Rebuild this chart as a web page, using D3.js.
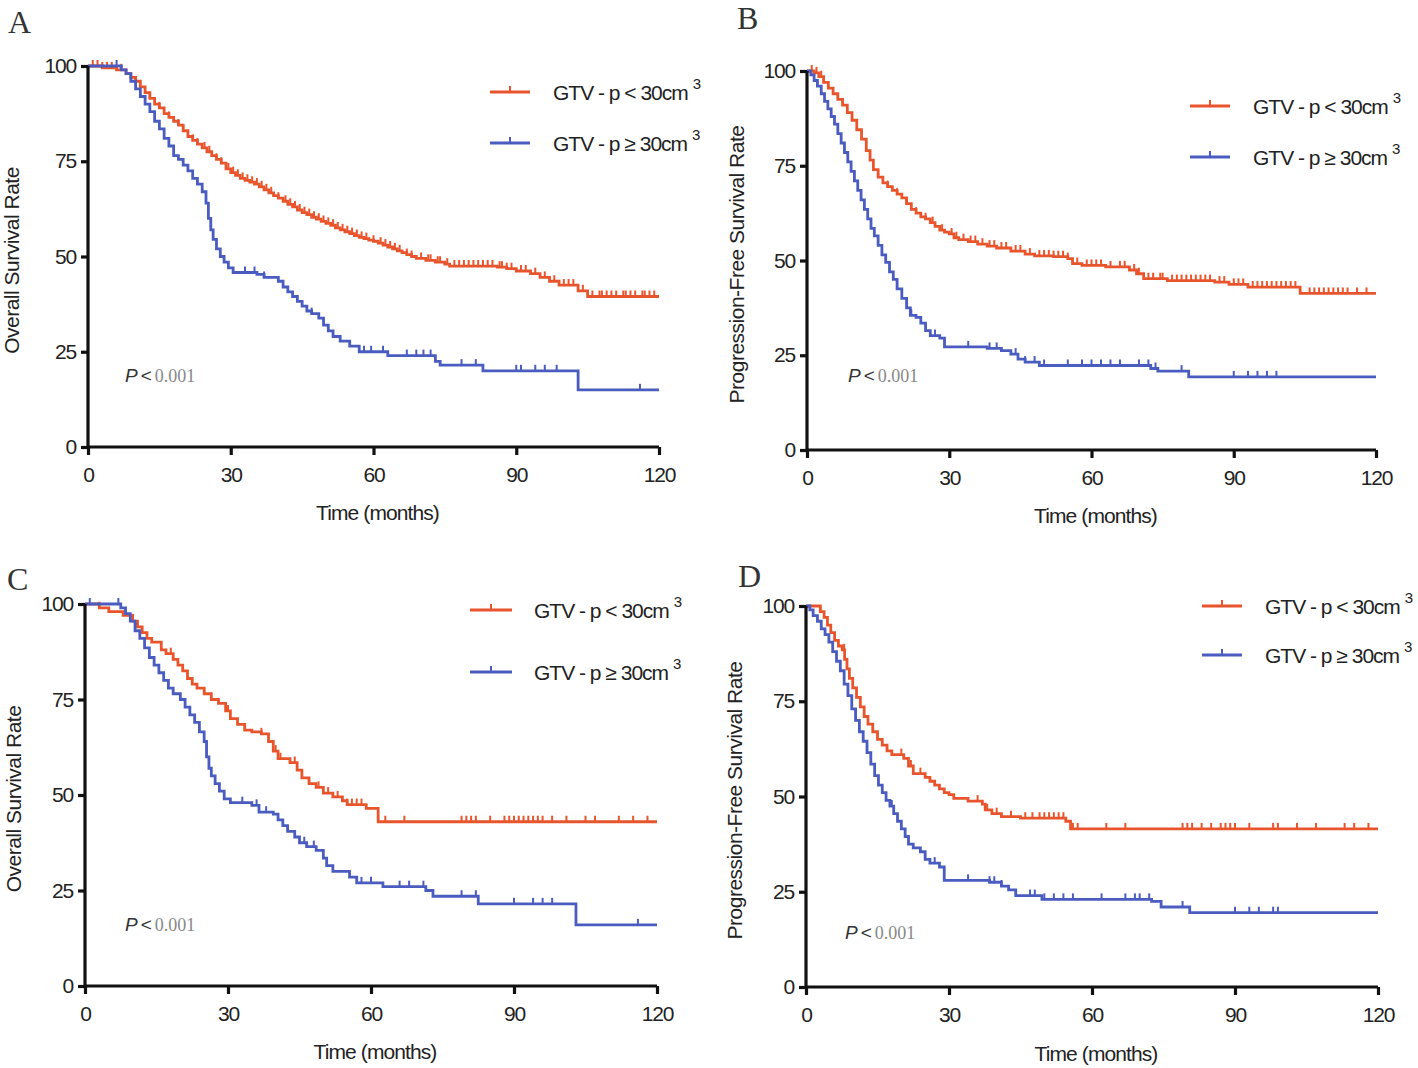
<!DOCTYPE html>
<html><head><meta charset="utf-8">
<script src="https://cdn.jsdelivr.net/npm/d3@7"></script>
<style>
html,body{margin:0;padding:0;background:#fff;}
svg{display:block;}
</style></head>
<body>
<svg id="chart" width="1418" height="1068"></svg>
<script>
// ---------- DATA ----------
const panelLetters = ["A", "B", "C", "D"];
const yTitles = ["Overall Survival Rate", "Progression-Free Survival Rate", "Overall Survival Rate", "Progression-Free Survival Rate"];
const xTitle = "Time (months)";
const xTicks = [0, 30, 60, 90, 120];
const yTicks = [0, 25, 50, 75, 100];
const seriesNames = ["GTV - p < 30cm", "GTV - p \u2265 30cm"];
const pText = "0.001";

// Panel A
const aRedT = [0,3,6,8,9,10,11,12,13,14,15,16,17,18,19,20,21,22,23,24,25,26,27,28,29,30,31,32,33,34,35,36,37,38,39,40,41,42,43,44,45,46,47,48,49,50,51,52,53,54,55,56,57,58,59,60,61,62,63,64,65,66,67,68,69,71,73,75,76,86,88,90,93,95,97,99,103,105];
const aRedS = [100,99.5,99,98,97,96,94.5,93,91.5,90,89,87.5,86.5,85.5,84.5,83,81.5,80.5,79.5,78.5,77.5,76.5,75.5,74.5,73,72,71.3,70.5,70,69.5,69,68.3,67.5,66.7,66,65.3,64.5,63.7,63,62.2,61.5,61,60.3,59.8,59.2,58.7,58.2,57.5,57,56.5,56,55.5,55,54.7,54.3,54,53.5,53,52.5,52,51.5,51,50.5,50,49.5,49,48.5,48,47.5,47.2,46.8,46.2,45.5,44.5,43.5,42.5,41,39.5];
const aRedC = [1,2,3,4,5,7,13,15,17,19,20,22,23,24.5,25.5,27,28,29.5,30.5,31.5,32.5,33.5,34.5,35.5,36.5,37.5,38.5,40,41.5,42.5,43.5,44.5,45.5,46.5,47.5,48.5,49.5,50.5,51.5,52.5,53.5,54.5,55.5,56.5,57.5,58.5,60,61.5,62.5,63.5,64.5,65.5,67,68,70,71.5,72,73.5,74,75.5,77,78,79,80,81,82,83,84,85,86.5,87,88,89,91,92,94,96,98,100,101,102,104,106,107.5,108,109,110,111,112.5,113,114,115,116.5,117,118,119];
const aBlueT = [0,7,8,9,10,11,12,13,14,15,16,17,18,19,20,21,22,23,24,24.8,25.3,25.8,26.3,27,27.8,28.6,29.5,30.5,35.5,37,40,41,42,43,44,45,46,47,48.5,49.5,50.5,51.5,53,55,57,63,73,74,83,103];
const aBlueS = [100,99,98,96,94,92,90,88,85.5,83.5,81,79,76.5,75.5,74,72.5,70.5,69,67,64,60,57,54.5,52,50,48.5,47,45.8,45.3,44.5,43.5,42,40.7,39.5,38.2,37,35.7,35,33.8,32,30.5,29,27.8,26.5,25,24,22.5,21.5,20,15];
const aBlueC = [6,33,35,37,47,58,59.5,62,67,69,70.5,72,78.5,81.5,90,91,94,96,98.5,116];

// Panel B
const bRedT = [0,1.5,2.5,3.5,4.5,5.5,6.5,7.5,8.5,9.5,10.5,11.5,12.5,13.3,14,15,16,17,18,19,20,21,22,23,24,25,26,27,28,29,30,31,32,34,36,38,40,43,46,48,52,55,56,58,63,68,69.5,71,76,86,89,93,104];
const bRedS = [100,99.5,98.5,97,95.5,94,92.5,91,89,87,84.5,82,79,76.5,74,72,70.5,69.5,68.5,67.5,66.5,65,63.5,62.5,61.5,61,60,59,58,57.5,57,56,55.5,55,54.3,53.8,53.3,52.5,51.7,51.2,51,50.5,49.2,48.7,48.3,47.5,46.5,45.2,44.7,44.3,43.7,43,41.3];
const bRedC = [1,2,3,15,17,19,21,23,25,26.5,28.5,30.5,31.5,33,34.5,35.5,37,38.5,39.5,41,42,44,45,47,49,50,51,52,53,54,55,57,59,60,61,62,64,66,67,69,70,72,73,74.5,75,77,78,79,80,81,82,83,84,85,87,88,90,91,92,94,95,96,97,98,99,100,101,102,103,106,107,108,109,110,111,112,113,114,116,118];
const bBlueT = [0,0.8,1.5,2.2,3,3.7,4.4,5.1,5.8,6.5,7.2,7.9,8.6,9.3,10,10.7,11.4,12.1,12.8,13.5,14.2,15,15.8,16.6,17.4,18.2,19,20,21,21.8,23,24,25,26,28,29,38,41,43,44.5,46,49,72.5,74,80.5];
const bBlueS = [100,99,97.5,96,94,92,90,88,86,83.5,81,78.5,76,73.5,71,68.5,66,63.5,61,58.5,56.5,54,51.5,49.5,47,45,42.5,40,37.5,35.5,35,33.5,31.5,30.2,29.5,27.2,26.8,26.2,25.3,24,23.2,22.3,21.5,20.8,19.3];
const bBlueC = [19,22,27,34,38.5,40,44,46,48,50,55,58,60,62,64,66,70,72,73.5,79,90,93,95,97,99];

// Panel C
const cRedT = [0,3,5,8,10,11,12,13,14,16,17,18.5,19.5,20.5,21.5,22.5,23.5,25,26.5,28,29.5,30.5,32,33.5,35,37,38.5,39.5,40.5,43,44.5,45.5,47,48.5,50,52,54,55,59,61.5];
const cRedS = [100,99,98,97,95.5,94,92.5,91,90,88,87,85.5,84,82.5,80.5,79,78,76.5,75,74,72,70,68.5,67,66.5,66,64,61.5,59.5,58.5,56.5,54.5,53,52,50.5,49.5,48.5,47.5,46.5,43];
const cRedC = [3,11,18,25,30,37,40,41,44,47,49,51,53,55,56,57,58,63,67,79,80,81,82,85,88,89,90,91,92,93,94,95,96,98,101,105,107,112,115,118];
const cBlueT = [0,7.5,8.5,9.5,10.5,11.5,12.5,13.5,14.5,15.5,16.5,17.5,18.5,20,21,22,23,24,25,25.5,26,26.5,27.3,28.2,29.2,30.5,35,36.5,39.5,40.5,41.5,42.5,44,45,46.5,48.5,50,50.7,52,55.5,57,62.5,71.5,73,82.5,103];
const cBlueS = [100,99,97.5,95.5,93,91,88.5,86,84,82,80,78,76.5,75,73,71,69,66.5,64,60,57,55,53,51,49,48,47.3,45.5,45,43.5,42,40.5,39,37.5,36.5,35.5,33.5,31.5,30,28.5,27,26,25,23.5,21.5,16];
const cBlueC = [1,7,33,36,38,46,48,58,60,66,68,71,79,82,90,94,96,98,116];

// Panel D
const dRedT = [0,3,3.8,4.5,5.2,6,6.8,7.6,8.1,8.6,9.1,9.8,10.6,11.4,12.2,13,14,15,16,17,18,20.5,21.5,22.5,25,26,27,28,29,30,31,34,37,37.6,39,41,45,54.5,55.5];
const dRedS = [100,98.5,97,95,93,91,89.5,88.5,86,83.5,81,78.5,76,73.5,71,69,67,65,63.5,62,61,60,58,56,55,54,53,52,51,50.5,49.5,48.8,48,46.5,45.5,44.7,44.3,43.5,41.5];
const dRedC = [3,8,20,22,24,36,38,40,43,46,47.5,49,50,51,52,53,54,56,57,63,67,79,80,81,83,85,87,88,89,90,93,98,99,103,107,113,115,118];
const dBlueT = [0,0.8,1.5,2.4,3.2,4,4.8,5.6,6.4,7.2,8,8.8,9.6,10.4,11.2,12,12.8,13.6,14.4,15.2,16,16.8,17.6,18.4,19.2,20,20.8,21.5,22.5,24,25,26,28,29,38.5,41,42.5,44,49.5,72.5,74.5,80.5];
const dBlueS = [100,99,97.5,96,94,92.5,90.5,88,85.5,83,79.5,76.5,73,70,67,64.5,61.5,58.5,55.5,53,51,49,47.5,45.5,43.5,41.5,39.5,37.5,36.5,35.5,33.5,32.5,31.5,28,27.5,26.5,25.5,24,23,22.5,21,19.5];
const dBlueC = [18,27,34,38.5,39.5,41,47,48,50,52,54,56,62,67,69,70,72,79,90,93,95,98,99];

const seriesT = [[aRedT, aBlueT], [bRedT, bBlueT], [cRedT, cBlueT], [dRedT, dBlueT]];
const seriesS = [[aRedS, aBlueS], [bRedS, bBlueS], [cRedS, cBlueS], [dRedS, dBlueS]];
const seriesC = [[aRedC, aBlueC], [bRedC, bBlueC], [cRedC, cBlueC], [dRedC, dBlueC]];

// ---------- LAYOUT ----------
const colors = ["#e8552d", "#4a5cc0"];
const layout = [
  {x0: 88, x1: 659, yT: 66, yB: 447, yl: 12, xlY: 513, let: [8, 33], leg: [490, 530, 92, 143, 553], p: [125, 382]},
  {x0: 807, x1: 1376, yT: 71, yB: 450, yl: 737, xlY: 516, let: [737, 29], leg: [1190, 1230, 106, 157, 1253], p: [848, 382]},
  {x0: 85, x1: 657, yT: 604, yB: 986, yl: 14, xlY: 1052, let: [7, 590], leg: [470, 512, 610, 672, 534], p: [125, 931]},
  {x0: 806, x1: 1378, yT: 606, yB: 987, yl: 735, xlY: 1054, let: [738, 587], leg: [1202, 1242, 606, 655, 1265], p: [845, 939]}
];

const svg = d3.select("#chart");
const sans = "'Liberation Sans', Arial, sans-serif";
const serif = "'Liberation Serif', 'Times New Roman', serif";

layout.forEach((L, i) => {
  const g = svg.append("g");
  const x = d3.scaleLinear().domain([0, 120]).range([L.x0, L.x1]);
  const y = d3.scaleLinear().domain([0, 100]).range([L.yB, L.yT]);

  // curves
  [0, 1].forEach(k => {
    const T = seriesT[i][k], S = seriesS[i][k];
    const pts = T.map((t, j) => [t, S[j]]);
    pts.push([120, S[S.length - 1]]);
    const line = d3.line().x(d => x(d[0])).y(d => y(d[1])).curve(d3.curveStepAfter);
    g.append("path").attr("d", line(pts)).attr("fill", "none")
      .attr("stroke", colors[k]).attr("stroke-width", 2.8);
    // censor ticks
    const stepVal = t => { let v = S[0]; for (let j = 0; j < T.length; j++) { if (T[j] <= t) v = S[j]; } return v; };
    g.selectAll(null).data(seriesC[i][k]).enter().append("line")
      .attr("x1", d => x(d)).attr("x2", d => x(d))
      .attr("y1", d => y(stepVal(d))).attr("y2", d => y(stepVal(d)) - 6)
      .attr("stroke", colors[k]).attr("stroke-width", 2);
  });

  // axes
  const yAxis = d3.axisLeft(y).tickValues(yTicks).tickSize(7).tickPadding(5);
  const xAxis = d3.axisBottom(x).tickValues(xTicks).tickSize(8).tickPadding(12);
  const ya = g.append("g").attr("transform", `translate(${L.x0},0)`).call(yAxis);
  const xa = g.append("g").attr("transform", `translate(0,${L.yB})`).call(xAxis);
  [ya, xa].forEach(a => {
    a.select(".domain").attr("stroke", "#111").attr("stroke-width", 3.2);
    a.selectAll(".tick line").attr("stroke", "#111").attr("stroke-width", 3.2);
    a.selectAll(".tick text").attr("font-family", sans).attr("font-size", 21).attr("fill", "#222")
      .attr("letter-spacing", "-1.2px");
  });
  ya.select(".domain").attr("d", `M0,${L.yT}V${L.yB}`);
  xa.select(".domain").attr("d", `M${L.x0},0H${L.x1}`);

  // axis titles
  g.append("text").attr("x", (L.x0 + L.x1) / 2 + 4).attr("y", L.xlY + 7)
    .attr("text-anchor", "middle").attr("font-family", sans).attr("font-size", 21)
    .attr("letter-spacing", "-0.9px").attr("fill", "#222").text(xTitle);
  g.append("text").attr("transform", `translate(${L.yl + 7},${(L.yT + L.yB) / 2 + 4}) rotate(-90)`)
    .attr("text-anchor", "middle").attr("font-family", sans).attr("font-size", 21)
    .attr("letter-spacing", "-0.5px").attr("fill", "#222").text(yTitles[i]);

  // panel letter
  g.append("text").attr("x", L.let[0]).attr("y", L.let[1]).attr("font-family", serif)
    .attr("font-size", 32).attr("fill", "#333").text(panelLetters[i]);

  // legend
  const lg = L.leg;
  [0, 1].forEach(k => {
    const ly = k === 0 ? lg[2] : lg[3];
    g.append("line").attr("x1", lg[0]).attr("x2", lg[1]).attr("y1", ly).attr("y2", ly)
      .attr("stroke", colors[k]).attr("stroke-width", 2.8);
    const mx = (lg[0] + lg[1]) / 2;
    g.append("line").attr("x1", mx).attr("x2", mx).attr("y1", ly).attr("y2", ly - 6)
      .attr("stroke", colors[k]).attr("stroke-width", 2);
    const t = g.append("text").attr("x", lg[4]).attr("y", ly + 8).attr("font-family", sans)
      .attr("font-size", 21).attr("letter-spacing", "-1px").attr("fill", "#222");
    t.append("tspan").text(seriesNames[k]);
    t.append("tspan").attr("dx", 5).attr("dy", -11).attr("font-size", 15).text("3");
  });

  // p value
  const pt = g.append("text").attr("x", L.p[0]).attr("y", L.p[1]).attr("font-size", 19);
  pt.append("tspan").attr("font-family", sans).attr("font-style", "italic").attr("fill", "#333").text("P");
  pt.append("tspan").attr("font-family", sans).attr("fill", "#333").attr("dx", 3).text("<");
  pt.append("tspan").attr("font-family", serif).attr("fill", "#888").attr("dx", 3).attr("font-size", 18).text(pText);
});
</script>
</body></html>
